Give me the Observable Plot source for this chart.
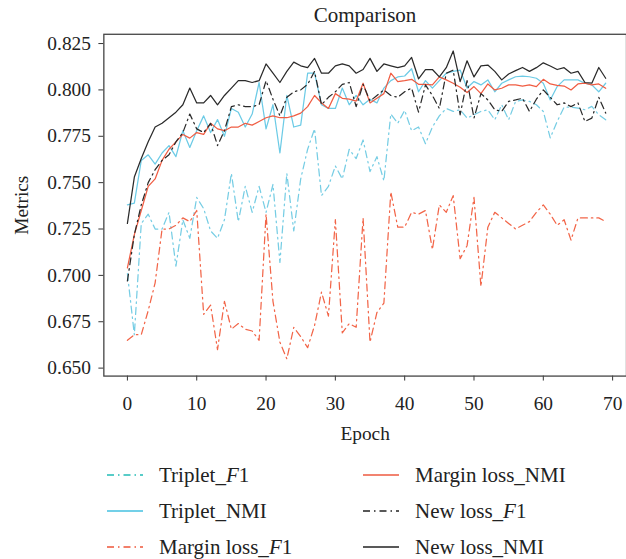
<!DOCTYPE html>
<html><head><meta charset="utf-8">
<script src="https://cdn.jsdelivr.net/npm/d3@7"></script>
<script src="https://cdn.jsdelivr.net/npm/@observablehq/plot@0.6"></script>
<style>
html,body{margin:0;padding:0;background:#fff;overflow:hidden;}
#wrap{position:relative;width:626px;height:559px;overflow:hidden;font-family:"Liberation Serif","DejaVu Serif",serif;color:#222;}
#title{position:absolute;top:3px;left:104px;width:522px;text-align:center;font-size:21px;line-height:24px;}
#chart{position:absolute;top:0;left:0;}
.lg{position:absolute;display:flex;align-items:center;font-size:21px;line-height:24px;white-space:nowrap;}
.lg svg{margin-right:16px;}
</style></head>
<body><div id="wrap"><div id="chart"></div><div id="title">Comparison</div></div>
<script>
const epochs = Array.from({length: 70}, (_, i) => i);
const xTicks = [0, 10, 20, 30, 40, 50, 60, 70];
const yTicks = [0.650, 0.675, 0.700, 0.725, 0.750, 0.775, 0.800, 0.825];

const tripletF1 = [0.701,0.668,0.728,0.733,0.725,0.725,0.734,0.705,0.730,0.720,0.742,0.736,0.724,0.720,0.730,0.755,0.729,0.748,0.734,0.748,0.734,0.749,0.707,0.755,0.724,
  0.752,0.768,0.779,0.743,0.748,0.759,0.752,0.768,0.763,0.773,0.756,0.764,0.751,0.787,0.782,0.789,0.778,0.780,0.771,0.780,0.786,0.790,
  0.7884,0.7893,0.7848,0.7866,0.7884,0.7893,0.7839,0.792,0.7839,0.7938,0.7946,0.7938,0.792,0.7884,0.7741,0.783,0.7907,0.7907,0.7902,0.7893,0.7911,0.7866,0.7839];
const tripletNMI = [0.738,0.739,0.762,0.765,0.760,0.766,0.770,0.764,0.778,0.769,0.778,0.786,0.777,0.784,0.775,0.790,0.788,0.780,0.787,0.804,0.779,0.792,
  0.766,0.797,0.780,0.781,0.809,0.809,0.792,0.790,0.790,0.801,0.792,0.797,0.792,0.795,0.793,0.801,0.805,0.807,0.8075,0.8114,0.799,0.805,0.801,0.805,0.809,
  0.810,0.8107,0.801,0.8045,0.8027,0.8054,0.799,0.8036,0.8054,0.8071,0.8075,0.8071,0.8063,0.8036,0.7946,0.8018,0.8054,0.8054,0.8054,0.8036,0.8027,0.799,0.8036];
const marginF1 = [0.665,0.668,0.668,0.681,0.696,0.725,0.725,0.727,0.731,0.729,0.735,0.679,0.684,0.660,0.686,0.671,0.674,0.671,0.670,0.665,0.733,0.686,0.664,0.655,0.672,
  0.667,0.661,0.673,0.691,0.678,0.730,0.669,0.674,0.672,0.731,0.664,0.680,0.685,0.745,0.726,0.726,0.734,0.733,0.735,0.714,
  0.738,0.734,0.743,0.709,0.716,0.742,0.694,0.726,0.734,0.731,0.728,0.725,0.727,0.729,0.734,0.738,0.733,0.727,0.730,0.719,0.731,0.731,0.731,0.731,0.729];
const marginNMI = [0.704,0.722,0.735,0.748,0.752,0.762,0.768,0.772,0.776,0.774,0.777,0.776,0.782,0.779,0.778,0.780,0.780,0.782,0.781,0.783,0.785,0.786,0.785,
  0.785,0.786,0.7875,0.791,0.797,0.793,0.790,0.798,0.7955,0.795,0.794,0.8036,0.793,0.7955,0.798,0.809,0.8045,0.805,0.8057,0.803,0.803,0.8027,0.807,0.8054,
  0.8036,0.8014,0.7986,0.8018,0.798,0.8032,0.800,0.8009,0.8027,0.8027,0.8021,0.8027,0.8018,0.8057,0.8032,0.8025,0.8021,0.800,0.8032,0.8036,0.8027,0.8032,0.8009];
const newF1 = [0.697,0.722,0.738,0.750,0.757,0.762,0.765,0.772,0.777,0.787,0.779,0.777,0.782,0.770,0.778,0.791,0.792,0.791,0.791,0.792,0.805,0.795,0.786,
  0.796,0.799,0.800,0.803,0.810,0.792,0.796,0.799,0.803,0.804,0.791,0.803,0.794,0.797,0.800,0.797,0.796,0.799,0.801,0.788,0.8027,0.797,0.790,
  0.809,0.8107,0.7866,0.805,0.7848,0.798,0.7946,0.7893,0.7884,0.7938,0.7946,0.7955,0.7884,0.795,0.800,0.796,0.792,0.793,0.791,0.793,0.783,0.7848,0.796,0.7875];
const newNMI = [0.728,0.753,0.763,0.772,0.780,0.782,0.785,0.788,0.792,0.801,0.793,0.793,0.797,0.792,0.797,0.801,0.805,0.805,0.804,0.805,
  0.814,0.809,0.804,0.810,0.815,0.813,0.812,0.817,0.809,0.809,0.813,0.814,0.813,0.809,0.811,0.817,0.810,0.814,0.813,0.812,
  0.813,0.8175,0.806,0.811,0.811,0.807,0.812,0.821,0.8045,0.8157,0.807,0.813,0.8134,0.810,0.8054,0.8086,0.8104,0.8121,0.810,0.812,
  0.8146,0.8129,0.811,0.812,0.809,0.810,0.804,0.8036,0.8121,0.8063];

const seriesNames = ["Triplet_F1", "Triplet_NMI", "Margin loss_F1", "Margin loss_NMI", "New loss_F1", "New loss_NMI"];
const seriesValues = [tripletF1, tripletNMI, marginF1, marginNMI, newF1, newNMI];
const legendHtml = ["Triplet_<i>F</i>1", "Triplet_NMI", "Margin loss_<i>F</i>1", "Margin loss_NMI", "New loss_<i>F</i>1", "New loss_NMI"];
const lineColors = ["#76cde4", "#6ccbe6", "#f26548", "#f05c42", "#2a2a2a", "#2a2a2a"];
const legendColors = ["#22bcb6", "#45c1e0", "#ee553a", "#ee5a40", "#222", "#222"];
const dashes = ["7,4,1.5,4", null, "7,4,1.5,4", null, "7,4,1.5,4", null];

const lines = seriesValues.map((vals, k) => Plot.line(
  epochs.map((e, i) => ({epoch: e, value: vals[i]})),
  {x: "epoch", y: "value", stroke: lineColors[k], strokeWidth: 1.25,
   strokeDasharray: dashes[k] || undefined, strokeLinejoin: "round"}
));

const chart = Plot.plot({
  width: 630, height: 458,
  marginTop: 34, marginBottom: 80, marginLeft: 104, marginRight: 0,
  style: {fontFamily: "Liberation Serif, DejaVu Serif, serif", fontSize: "19.5px", color: "#222", background: "transparent"},
  x: {domain: [-3.4, 72]},
  y: {domain: [0.6457, 0.830]},
  marks: [
    ...lines,
    Plot.axisX({ticks: xTicks, tickSize: 5, tickPadding: 15, stroke: "#333", label: "Epoch", labelAnchor: "center", labelOffset: 64, labelArrow: "none"}),
    Plot.axisY({ticks: yTicks, tickFormat: d3.format(".3f"), tickSize: 5, tickPadding: 8, stroke: "#333", label: "Metrics", labelAnchor: "center", labelOffset: 90, labelArrow: "none"}),
    Plot.frame({stroke: "#444", strokeWidth: 1.3})
  ]
});
document.getElementById("chart").appendChild(chart);

const wrap = document.getElementById("wrap");
const rowsY = [475, 511, 547];
seriesNames.forEach((name, k) => {
  const col = Math.floor(k / 3), row = k % 3;
  const div = document.createElement("div");
  div.className = "lg";
  div.style.left = (col === 0 ? 107 : 363) + "px";
  div.style.top = (rowsY[row] - 12) + "px";
  const dash = dashes[k] ? `stroke-dasharray="${dashes[k]}"` : "";
  div.innerHTML = `<svg width="36" height="6"><line x1="0" y1="3" x2="36" y2="3" stroke="${legendColors[k]}" stroke-width="1.6" ${dash}/></svg><span>${legendHtml[k]}</span>`;
  wrap.appendChild(div);
});
</script></body></html>
